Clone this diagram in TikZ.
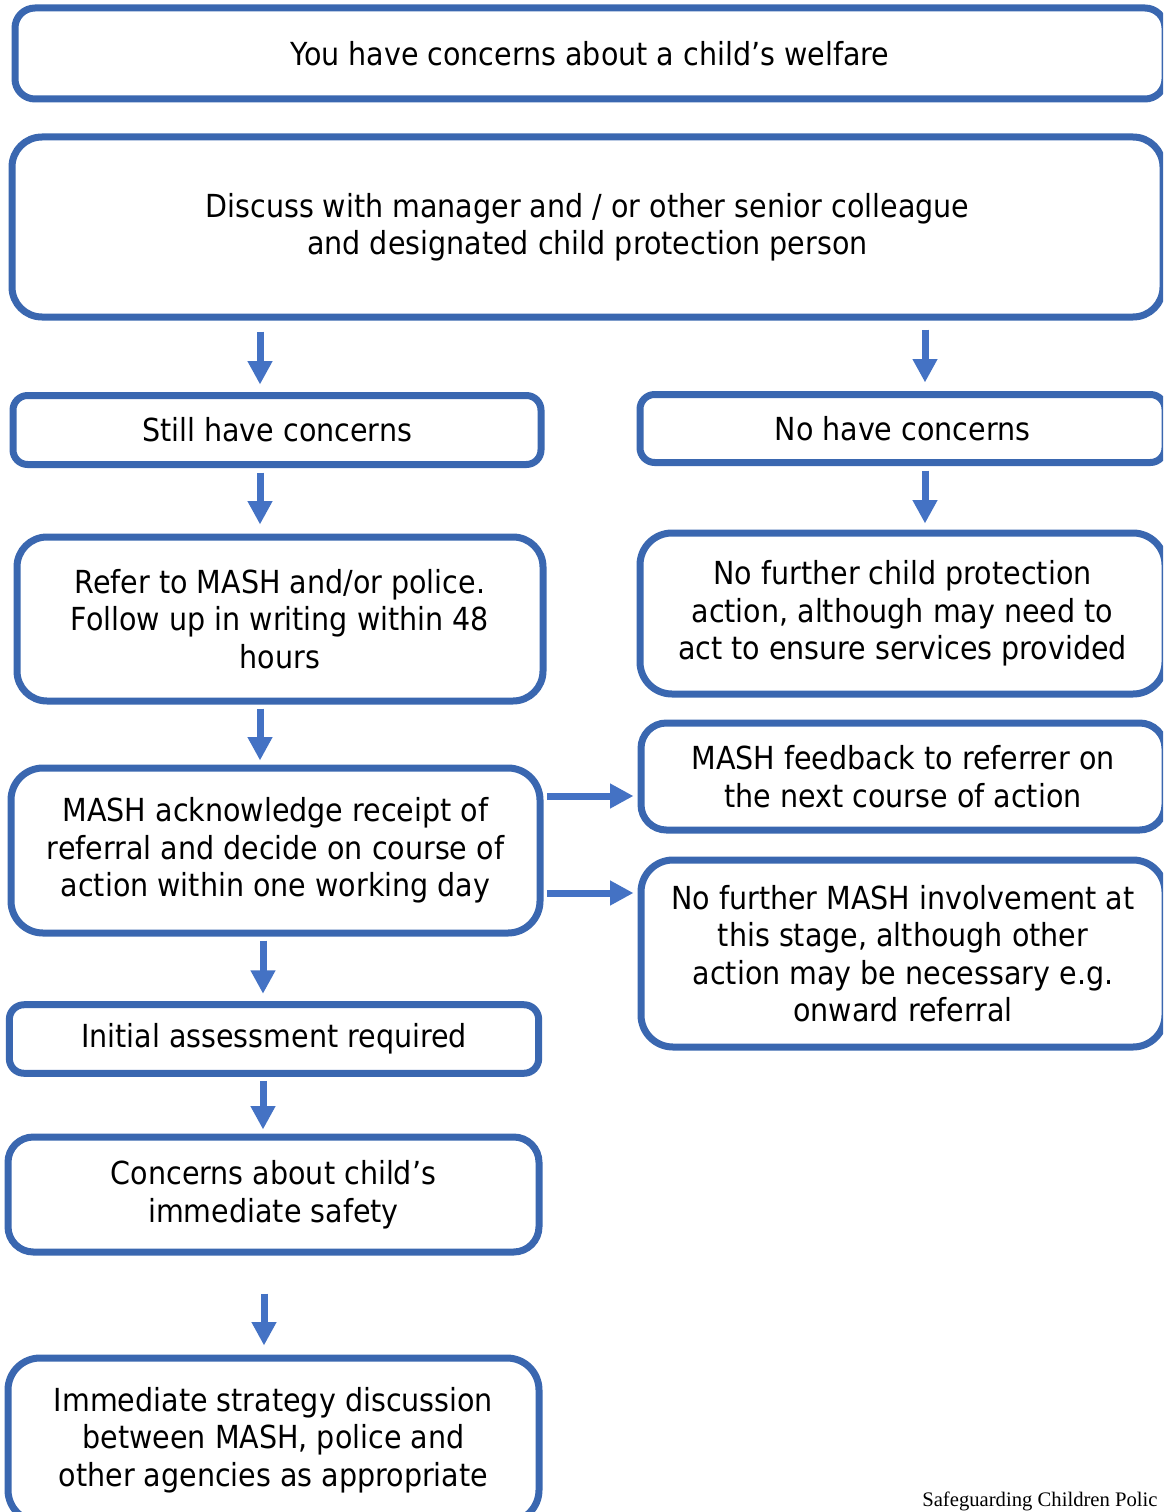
\documentclass[tikz,border=0pt]{standalone}
\usepackage{fontspec}
\setmainfont{DejaVu Sans Condensed}
\newfontfamily\footfont{Liberation Serif}
\usetikzlibrary{arrows.meta,calc}
\definecolor{boxblue}{RGB}{58,103,176}
\definecolor{arrblue}{RGB}{68,114,196}
\begin{document}
\begin{tikzpicture}[x=0.75pt,y=-0.75pt,
  box/.style={draw=boxblue, line width=5.25pt, fill=white, align=center,
    inner sep=0pt, font=\fontsize{23.8}{28.1}\selectfont, text=black},
  arr/.style={draw=arrblue, line width=5.25pt,
    -{Triangle[width=17.5pt,length=17.5pt]}},
]
\useasboundingbox (0,0) rectangle (1163,1512);
\clip (0,0) rectangle (1163,1512);
\fill[white] (0,0) rectangle (1163,1512);

% boxes (centre, width, height, corner radius in px)
\node[box, rounded corners=15pt, minimum width=862.5pt, minimum height=68.25pt]
  (top) at (590,53.5) {You have concerns about a child’s welfare};
\node[box, rounded corners=22.5pt, minimum width=863.25pt, minimum height=135pt]
  (discuss) at (587.5,227) {Discuss with manager and / or other senior colleague\\and designated child protection person};
\node[box, rounded corners=11pt, minimum width=396pt, minimum height=51.75pt]
  (still) at (277,430) {Still have concerns};
\node[box, rounded corners=11pt, minimum width=393.75pt, minimum height=51pt]
  (nohave) at (902.5,428.5) {No have concerns};
\node[box, rounded corners=22.5pt, minimum width=394.5pt, minimum height=123pt]
  (refer) at (280,619) {Refer to MASH and/or police.\\Follow up in writing within 48\\hours};
\node[box, rounded corners=24pt, minimum width=393.75pt, minimum height=120.75pt]
  (nofurther) at (902.5,613.5) {No further child protection\\action, although may need to\\act to ensure services provided};
\node[box, rounded corners=19pt, minimum width=393pt, minimum height=80.25pt]
  (feedback) at (903,776.5) {MASH feedback to referrer on\\the next course of action};
\node[box, rounded corners=24pt, minimum width=396.75pt, minimum height=123.75pt]
  (mashack) at (275.5,850.5) {MASH acknowledge receipt of\\referral and decide on course of\\action within one working day};
\node[box, rounded corners=24pt, minimum width=393pt, minimum height=140.25pt]
  (nomash) at (903,953.5) {No further MASH involvement at\\this stage, although other\\action may be necessary e.g.\\onward referral};
\node[box, rounded corners=11pt, minimum width=397pt, minimum height=51.4pt]
  (initial) at (274,1039) {Initial assessment required};
\node[box, rounded corners=19pt, minimum width=398.25pt, minimum height=86.25pt]
  (concerns) at (273.5,1194.5) {Concerns about child’s\\immediate safety};
\node[box, rounded corners=24pt, minimum width=398.25pt, minimum height=123pt]
  (immediate) at (273.5,1440) {Immediate strategy discussion\\between MASH, police and\\other agencies as appropriate};

% arrow columns / rows
\coordinate (cL) at (260,0);
\coordinate (cR) at (925,0);
\coordinate (cM) at (263,0);
\coordinate (cB) at (264,0);
\coordinate (r1) at (0,796);
\coordinate (r2) at (0,893);

\draw[arr, shorten <=8.25pt, shorten >=5.6pt] (discuss.south -| cL) -- (still.north -| cL);
\draw[arr, shorten <=6.75pt, shorten >=6.4pt] (discuss.south -| cR) -- (nohave.north -| cR);
\draw[arr, shorten <=3.4pt, shorten >=6.75pt] (still.south -| cL) -- (refer.north -| cL);
\draw[arr, shorten <=3.4pt, shorten >=4.5pt] (nohave.south -| cR) -- (nofurther.north -| cR);
\draw[arr, shorten <=3pt, shorten >=3pt] (refer.south -| cL) -- (mashack.north -| cL);
\draw[arr, shorten <=3pt, shorten >=5.6pt] (mashack.south -| cM) -- (initial.north -| cM);
\draw[arr, shorten <=3pt, shorten >=3pt] (initial.south -| cM) -- (concerns.north -| cM);
\draw[arr, shorten <=28.5pt, shorten >=6.75pt] (concerns.south -| cB) -- (immediate.north -| cB);
\draw[arr, shorten <=2.6pt, shorten >=3pt] (mashack.east |- r1) -- (feedback.west |- r1);
\draw[arr, shorten <=2.6pt, shorten >=3pt] (mashack.east |- r2) -- (nomash.west |- r2);

\node[anchor=base west, inner sep=0pt, font=\footfont\fontsize{15.5}{19}\selectfont]
  (foot) at (922,1506) {Safeguarding Children Polic};
\end{tikzpicture}
\end{document}
